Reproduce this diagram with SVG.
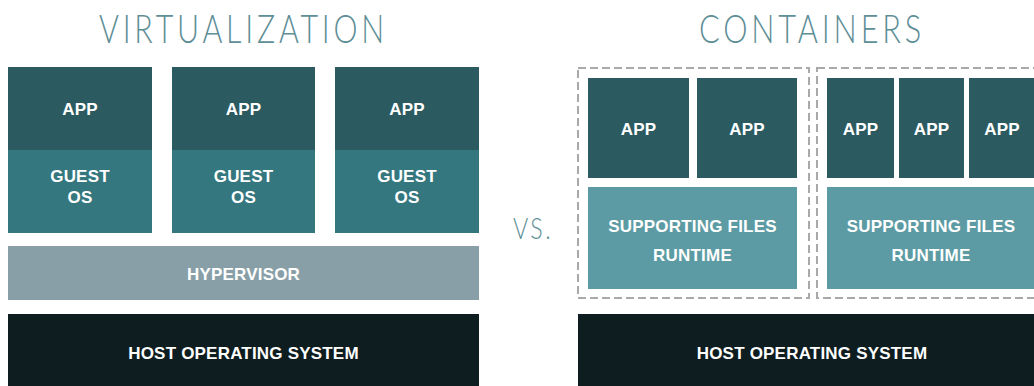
<svg xmlns="http://www.w3.org/2000/svg" width="1034" height="386" viewBox="0 0 1034 386">
<style>
.title{font-family:Lato,"Open Sans","Liberation Sans",sans-serif;font-weight:300;font-size:40px;fill:#5e8e96;text-anchor:middle;letter-spacing:5px}
.vs{font-family:Lato,"Open Sans","Liberation Sans",sans-serif;font-weight:300;font-size:29px;fill:#5e8e96;letter-spacing:3px}
.lbl{font-family:"Liberation Sans",Arial,sans-serif;font-weight:bold;font-size:17px;fill:#ffffff;text-anchor:middle;letter-spacing:0.2px}
.app{fill:#2c5a61}
.guest{fill:#35777f}
.sup{fill:#5c9ba3}
.hyp{fill:#889fa7}
.host{fill:#0e1d1f}
.dash{fill:none;stroke:#a9a9a9;stroke-width:2;stroke-dasharray:8 4}
</style>
<rect width="1034" height="386" fill="#ffffff"/>

<text class="title" x="243.5" y="43" textLength="289" lengthAdjust="spacingAndGlyphs">VIRTUALIZATION</text>
<text class="title" x="812" y="43" textLength="226" lengthAdjust="spacingAndGlyphs">CONTAINERS</text>
<text class="vs" x="513" y="239" textLength="40" lengthAdjust="spacingAndGlyphs">VS.</text>

<!-- Virtualization side -->
<g id="vm1-app"><rect class="app" x="8" y="67" width="144" height="83"/><text class="lbl" x="80" y="115">APP</text></g>
<g id="vm1-guest"><rect class="guest" x="8" y="150" width="144" height="83"/><text class="lbl" x="80" y="182">GUEST</text><text class="lbl" x="80" y="203">OS</text></g>
<g id="vm2-app"><rect class="app" x="172" y="67" width="143" height="83"/><text class="lbl" x="243.5" y="115">APP</text></g>
<g id="vm2-guest"><rect class="guest" x="172" y="150" width="143" height="83"/><text class="lbl" x="243.5" y="182">GUEST</text><text class="lbl" x="243.5" y="203">OS</text></g>
<g id="vm3-app"><rect class="app" x="335" y="67" width="144" height="83"/><text class="lbl" x="407" y="115">APP</text></g>
<g id="vm3-guest"><rect class="guest" x="335" y="150" width="144" height="83"/><text class="lbl" x="407" y="182">GUEST</text><text class="lbl" x="407" y="203">OS</text></g>
<g id="hypervisor"><rect class="hyp" x="8" y="246" width="471" height="54"/><text class="lbl" x="243.5" y="279.5">HYPERVISOR</text></g>
<g id="vm-host"><rect class="host" x="8" y="314" width="471" height="72"/><text class="lbl" x="243.5" y="359">HOST OPERATING SYSTEM</text></g>

<!-- Containers side -->
<g id="container1">
<rect class="dash" x="578" y="68" width="231" height="230"/>
</g>
<g id="container2">
<rect class="dash" x="817" y="68" width="240" height="230"/>
</g>
<g id="c1-app1"><rect class="app" x="588" y="78" width="101" height="100"/><text class="lbl" x="638.5" y="135">APP</text></g>
<g id="c1-app2"><rect class="app" x="697" y="78" width="100" height="100"/><text class="lbl" x="747" y="135">APP</text></g>
<g id="c1-support"><rect class="sup" x="588" y="187" width="209" height="102"/><text class="lbl" x="692.5" y="232">SUPPORTING FILES</text><text class="lbl" x="692.5" y="261">RUNTIME</text></g>
<g id="c2-app1"><rect class="app" x="827" y="78" width="67" height="100"/><text class="lbl" x="860.5" y="135">APP</text></g>
<g id="c2-app2"><rect class="app" x="899" y="78" width="65" height="100"/><text class="lbl" x="931.5" y="135">APP</text></g>
<g id="c2-app3"><rect class="app" x="969" y="78" width="70" height="100"/><text class="lbl" x="1002" y="135">APP</text></g>
<g id="c2-support"><rect class="sup" x="827" y="187" width="212" height="102"/><text class="lbl" x="931" y="232">SUPPORTING FILES</text><text class="lbl" x="931" y="261">RUNTIME</text></g>
<g id="c-host"><rect class="host" x="578" y="314" width="470" height="72"/><text class="lbl" x="812" y="359">HOST OPERATING SYSTEM</text></g>
</svg>
